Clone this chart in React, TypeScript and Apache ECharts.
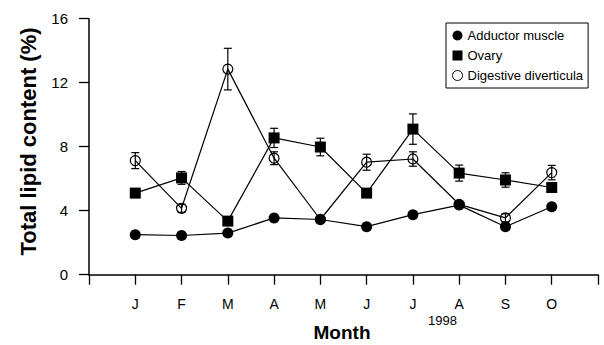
import React, { useEffect, useRef } from "react";
import * as echarts from "echarts";

const months = ["J", "F", "M", "A", "M", "J", "J", "A", "S", "O"];
const adductor = [2.5, 2.45, 2.6, 3.55, 3.45, 3.0, 3.75, 4.35, 3.0, 4.25];
const adductorErr = [0.1, 0.1, 0.1, 0.15, 0.1, 0.1, 0.15, 0.15, 0.1, 0.15];
const ovary = [5.1, 6.05, 3.35, 8.55, 7.98, 5.1, 9.1, 6.35, 5.92, 5.45];
const ovaryErr = [0.2, 0.4, 0.2, 0.6, 0.55, 0.25, 0.95, 0.5, 0.45, 0.3];
const digestive = [7.13, 4.15, 12.85, 7.28, 3.45, 7.03, 7.23, 4.4, 3.55, 6.38];
const digestiveErr = [0.5, 0.25, 1.3, 0.4, 0.15, 0.5, 0.45, 0.2, 0.25, 0.45];

const FONT = "'Liberation Sans', Arial, Helvetica, sans-serif";

function errData(vals: number[], errs: number[]) {
  return vals.map((v, i) => [i + 1, v - errs[i], v + errs[i]]);
}

function pts(vals: number[]) {
  return vals.map((v, i) => [i + 1, v]);
}

const errRender = (params: any, api: any) => {
  const x = api.value(0);
  const lo = api.coord([x, api.value(1)]);
  const hi = api.coord([x, api.value(2)]);
  const w = 4;
  const st = { stroke: "#000", lineWidth: 1.2 };
  return {
    type: "group",
    children: [
      { type: "line", shape: { x1: lo[0], y1: lo[1], x2: hi[0], y2: hi[1] }, style: st },
      { type: "line", shape: { x1: lo[0] - w, y1: lo[1], x2: lo[0] + w, y2: lo[1] }, style: st },
      { type: "line", shape: { x1: hi[0] - w, y1: hi[1], x2: hi[0] + w, y2: hi[1] }, style: st },
    ],
  };
};

export default function App() {
  const ref = useRef<HTMLDivElement>(null);
  useEffect(() => {
    if (!ref.current) return;
    const chart = echarts.init(ref.current, undefined, { renderer: "svg" });
    chart.setOption({
      animation: false,
      backgroundColor: "#fff",
      grid: { left: 89, top: 18.7, right: 6, bottom: 70.3 },
      xAxis: {
        type: "value",
        min: 0,
        max: 11,
        interval: 1,
        splitLine: { show: false },
        axisLine: { show: true, lineStyle: { color: "#000", width: 1.5 } },
        axisTick: { show: true, length: 10, lineStyle: { color: "#000", width: 1.3 } },
        axisLabel: {
          margin: 22,
          color: "#000",
          fontFamily: FONT,
          fontSize: 14,
          showMinLabel: true,
          showMaxLabel: true,
          formatter: (v: number) => (v >= 1 && v <= 10 ? months[v - 1] : ""),
        },
      },
      yAxis: {
        type: "value",
        min: 0,
        max: 16,
        interval: 4,
        splitLine: { show: false },
        axisLine: { show: true, lineStyle: { color: "#000", width: 1.5 } },
        axisTick: { show: true, length: 10, lineStyle: { color: "#000", width: 1.3 } },
        axisLabel: { margin: 21, color: "#000", fontFamily: FONT, fontSize: 15 },
      },
      legend: {
        orient: "vertical",
        left: 446,
        top: 23,
        padding: [6, 5, 6, 6],
        itemGap: 7,
        itemWidth: 10,
        itemHeight: 10,
        borderColor: "#000",
        borderWidth: 1,
        textStyle: { color: "#000", fontFamily: FONT, fontSize: 13 },
        data: [
          { name: "Adductor muscle", icon: "circle", itemStyle: { color: "#000", borderWidth: 0 } },
          { name: "Ovary", icon: "rect", itemStyle: { color: "#000", borderWidth: 0 } },
          {
            name: "Digestive diverticula",
            icon: "circle",
            itemStyle: { color: "#fff", borderColor: "#000", borderWidth: 1 },
          },
        ],
      },
      graphic: [
        {
          type: "text",
          x: 28,
          y: 141.5,
          rotation: Math.PI / 2,
          style: {
            text: "Total lipid content (%)",
            fontFamily: FONT,
            fontWeight: "bold",
            fontSize: 22,
            fill: "#000",
            textAlign: "center",
            textVerticalAlign: "middle",
          },
        },
        {
          type: "text",
          x: 342,
          y: 332.5,
          style: {
            text: "Month",
            fontFamily: FONT,
            fontWeight: "bold",
            fontSize: 19,
            fill: "#000",
            textAlign: "center",
            textVerticalAlign: "middle",
          },
        },
        {
          type: "text",
          x: 442.5,
          y: 320,
          style: {
            text: "1998",
            fontFamily: FONT,
            fontSize: 13,
            fill: "#000",
            textAlign: "center",
            textVerticalAlign: "middle",
          },
        },
      ],
      series: [
        {
          name: "Adductor muscle",
          type: "line",
          data: pts(adductor),
          symbol: "circle",
          symbolSize: 11,
          itemStyle: { color: "#000" },
          lineStyle: { color: "#000", width: 1.2 },
          z: 2,
        },
        {
          name: "Ovary",
          type: "line",
          data: pts(ovary),
          symbol: "rect",
          symbolSize: 11,
          itemStyle: { color: "#000" },
          lineStyle: { color: "#000", width: 1.2 },
          z: 2,
        },
        {
          name: "Digestive diverticula",
          type: "line",
          data: pts(digestive),
          symbol: "circle",
          symbolSize: 10,
          itemStyle: { color: "rgba(255,255,255,0)", borderColor: "#000", borderWidth: 1.2 },
          lineStyle: { color: "#000", width: 1.2 },
          z: 3,
        },
        { type: "custom", renderItem: errRender, data: errData(adductor, adductorErr), z: 4 },
        { type: "custom", renderItem: errRender, data: errData(ovary, ovaryErr), z: 4 },
        { type: "custom", renderItem: errRender, data: errData(digestive, digestiveErr), z: 4 },
      ],
    });
    return () => chart.dispose();
  }, []);
  return (
    <div
      ref={ref}
      style={{ position: "fixed", left: 0, top: 0, width: 604, height: 345, background: "#fff" }}
    />
  );
}
